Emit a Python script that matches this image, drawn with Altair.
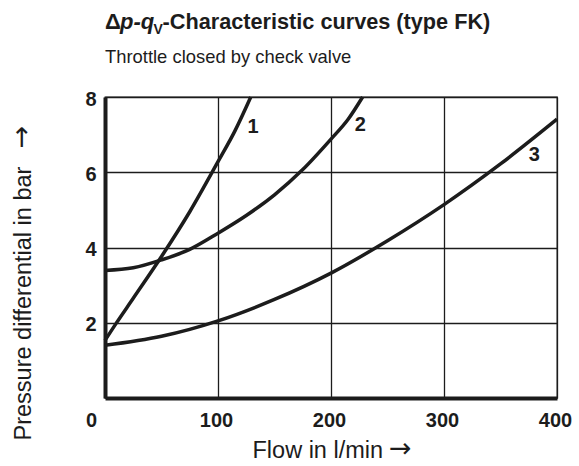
import altair as alt
import pandas as pd

# Curve data (flow in l/min, pressure differential in bar)
c1_x = [0, 10, 25, 50, 75, 100, 115, 129]
c1_y = [1.53, 1.99, 2.65, 3.76, 4.95, 6.28, 7.1, 8.0]
c2_x = [0, 25, 50, 75, 100, 125, 150, 175, 200, 215, 228]
c2_y = [3.39, 3.46, 3.67, 3.95, 4.38, 4.85, 5.4, 6.07, 6.88, 7.4, 8.0]
c3_x = [0, 50, 100, 150, 200, 250, 300, 350, 400]
c3_y = [1.4, 1.64, 2.05, 2.62, 3.32, 4.18, 5.14, 6.22, 7.41]

curve_names = ["1", "2", "3"]
label_x = [131, 226, 380]
label_y = [7.2, 7.25, 6.45]

x_ticks = [0, 100, 200, 300, 400]
y_ticks = [2, 4, 6, 8]

rows = []
for name, xs, ys in zip(curve_names, [c1_x, c2_x, c3_x], [c1_y, c2_y, c3_y]):
    for xv, yv in zip(xs, ys):
        rows.append({"curve": name, "q": xv, "dp": yv})
curves_df = pd.DataFrame(rows)
labels_df = pd.DataFrame({"curve": curve_names, "q": label_x, "dp": label_y})

INK = "#1c1c1c"
NARROW = "Liberation Sans Narrow, Arial Narrow, Liberation Sans"

x_enc = alt.X(
    "q:Q",
    scale=alt.Scale(domain=[0, 400], nice=False),
    axis=alt.Axis(
        values=x_ticks,
        title="Flow in l/min",
        titleFont="Liberation Sans",
        titleFontSize=23.5,
        titleFontWeight="normal",
        titleColor=INK,
        titleBaseline="alphabetic",
        titleAlign="left",
        titleX=147,
        titleY=59,
        labelFont=NARROW,
        labelFontSize=20,
        labelFontWeight="bold",
        labelColor=INK,
        labelPadding=12,
        labelFlush=False,
        labelOffset={"condition": {"test": "datum.value === 0", "value": -14}, "value": -2},
        ticks=False,
        grid=True,
        gridColor=INK,
        gridWidth=1.3,
        domainColor=INK,
        domainWidth=4,
    ),
)
y_enc = alt.Y(
    "dp:Q",
    scale=alt.Scale(domain=[0, 8], nice=False),
    axis=alt.Axis(
        values=y_ticks,
        title="Pressure differential in bar",
        titleFont="Liberation Sans",
        titleFontSize=23.5,
        titleFontWeight="normal",
        titleColor=INK,
        titleBaseline="alphabetic",
        titleAlign="left",
        titleAngle=270,
        titleX=-75,
        titleY=343,
        labelFont=NARROW,
        labelFontSize=20,
        labelFontWeight="bold",
        labelColor=INK,
        labelPadding=9,
        labelOffset=2,
        ticks=False,
        grid=True,
        gridColor=INK,
        gridWidth=1.3,
        domainColor=INK,
        domainWidth=4,
    ),
)

lines = alt.Chart(curves_df).mark_line(
    color=INK, strokeWidth=3.5, interpolate="monotone"
).encode(x=x_enc, y=y_enc, detail="curve:N")

curve_labels = alt.Chart(labels_df).mark_text(
    font=NARROW, fontSize=20, fontWeight="bold", color=INK, align="center", baseline="middle"
).encode(x="q:Q", y="dp:Q", text="curve:N")

one = alt.Data(values=[{}])


def text_piece(text, x, y, size, weight="bold", style="normal", font="Liberation Sans",
               angle=0, align="left"):
    return alt.Chart(one).mark_text(
        font=font, fontSize=size, fontWeight=weight, fontStyle=style, angle=angle,
        color=INK, align=align, baseline="alphabetic"
    ).encode(x=alt.value(x), y=alt.value(y), text=alt.value(text))


text_layers = [
    text_piece("Δ", 0, -68, 22),
    text_piece("p-q", 15, -68, 22, style="italic"),
    text_piece("V", 48.5, -63, 14),
    text_piece("-Characteristic curves (type FK)", 57.5, -68, 21.7),
    text_piece("Throttle closed by check valve", 0, -34.5, 18.4, weight="normal"),
    # arrows following the axis titles
    text_piece("→", 284, 359.5, 27, weight="normal", font="DejaVu Sans"),
    text_piece("→", -75, 40, 27, weight="normal", font="DejaVu Sans", angle=270, align="center"),
]

chart = alt.layer(lines, curve_labels, *text_layers).properties(
    width=452,
    height=301,
    autosize=alt.AutoSizeParams(type="none"),
    padding={"left": 105, "top": 97, "right": 22, "bottom": 68},
    background="white",
).configure_view(stroke=INK, strokeWidth=1.3)

chart.save("out.html", embed_options={"renderer": "svg", "actions": False})
